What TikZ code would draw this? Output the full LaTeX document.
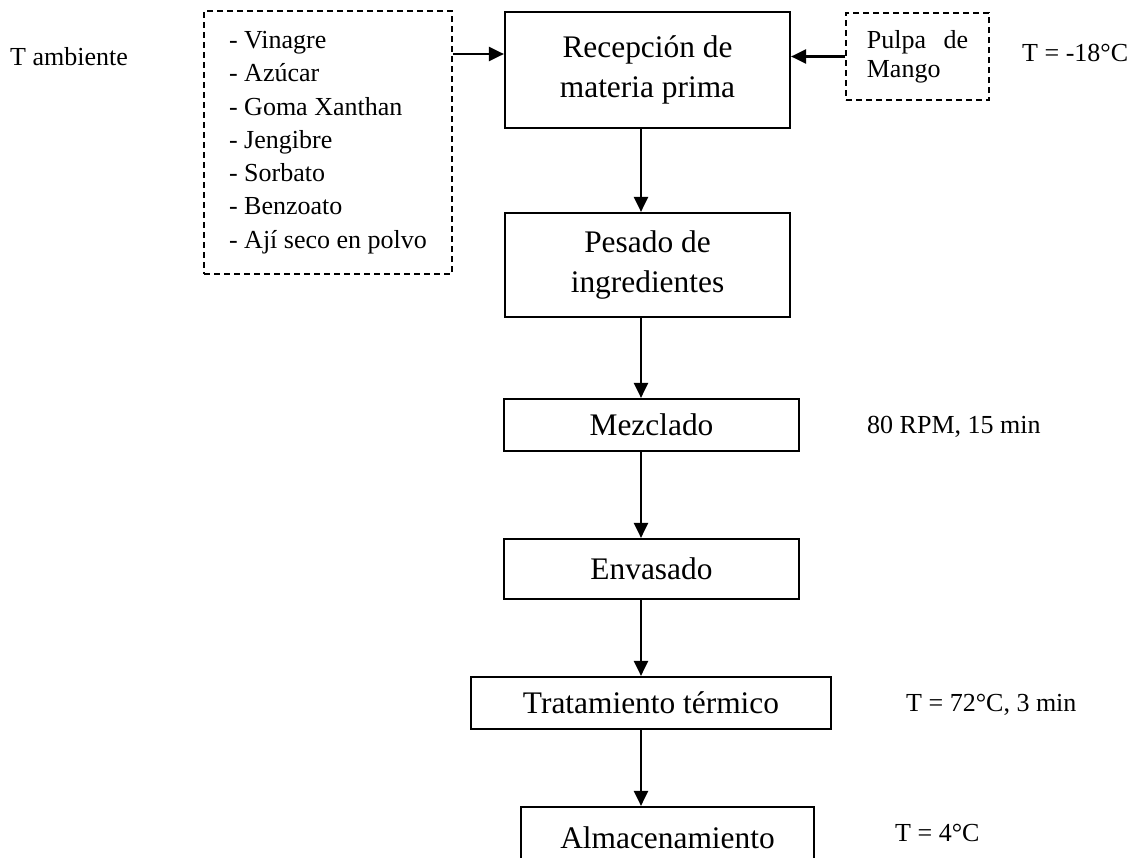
\documentclass[tikz,border=0pt]{standalone}
\usepackage{fontspec}
\setmainfont{Liberation Serif}
\usetikzlibrary{arrows.meta}
\begin{document}
\begin{tikzpicture}[x=1pt,y=-1pt,
  proc/.style={draw, line width=2.2pt, rectangle, align=center, inner sep=0pt,
    font=\fontsize{31.4}{40}\selectfont},
  inbox/.style={draw, line width=1.9pt, dash pattern=on 6pt off 4pt, rectangle, inner sep=0pt,
    font=\fontsize{26}{33.3}\selectfont},
  lbl/.style={anchor=west, inner sep=0pt, font=\fontsize{26}{31}\selectfont},
  arr/.style={line width=2.2pt, -{Triangle[length=15pt,width=14pt]}}]
\useasboundingbox (0,0) rectangle (1138,857);
\clip (0,0) rectangle (1138,857);
% process boxes
\node[proc, minimum width=285pt, minimum height=116pt] (recep) at (647.5,70) {Recepción de\\materia prima};
\node[proc, minimum width=285pt, minimum height=104pt] (pesado) at (647.5,265) {Pesado de\\ingredientes};
\node[proc, minimum width=295pt, minimum height=52pt] (mezcla) at (651.5,425) {Mezclado};
\node[proc, minimum width=295pt, minimum height=60pt] (envasa) at (651.5,569) {Envasado};
\node[proc, minimum width=360pt, minimum height=52pt] (trata) at (651,703) {Tratamiento térmico};
\node[proc, minimum width=293pt, minimum height=62pt] (almac) at (667.5,838) {Almacenamiento};
% input boxes
\node[inbox, minimum width=248pt, minimum height=263pt, align=left] (ing) at (328,142.5)
  {- Vinagre\\- Azúcar\\- Goma Xanthan\\- Jengibre\\- Sorbato\\- Benzoato\\- Ají seco en polvo};
\node[inbox, minimum width=143pt, minimum height=87pt, align=left, font=\fontsize{26}{29}\selectfont] (pulpa) at (917.5,56.5)
  {Pulpa\hspace{17.5pt}de\\Mango};
% labels
\node[lbl] (tamb) at (10,57) {T ambiente};
\node[lbl] (tpul) at (1022,53) {T = -18°C};
\node[lbl] (tmez) at (867,427) {80 RPM, 15 min};
\node[lbl] (ttra) at (906,705) {T = 72°C, 3 min};
\node[lbl] (talm) at (895,833) {T = 4°C};
% connectors
\coordinate (col) at (641,0);
\coordinate (inrow) at (0,54);
\draw[arr] (ing.east |- inrow) -- (recep.west |- inrow);
\draw[arr] (pulpa.west) -- (recep.east |- pulpa.west);
\draw[arr] (recep.south -| col) -- (pesado.north -| col);
\draw[arr] (pesado.south -| col) -- (mezcla.north -| col);
\draw[arr] (mezcla.south -| col) -- (envasa.north -| col);
\draw[arr] (envasa.south -| col) -- (trata.north -| col);
\draw[arr] (trata.south -| col) -- (almac.north -| col);
\end{tikzpicture}
\end{document}
